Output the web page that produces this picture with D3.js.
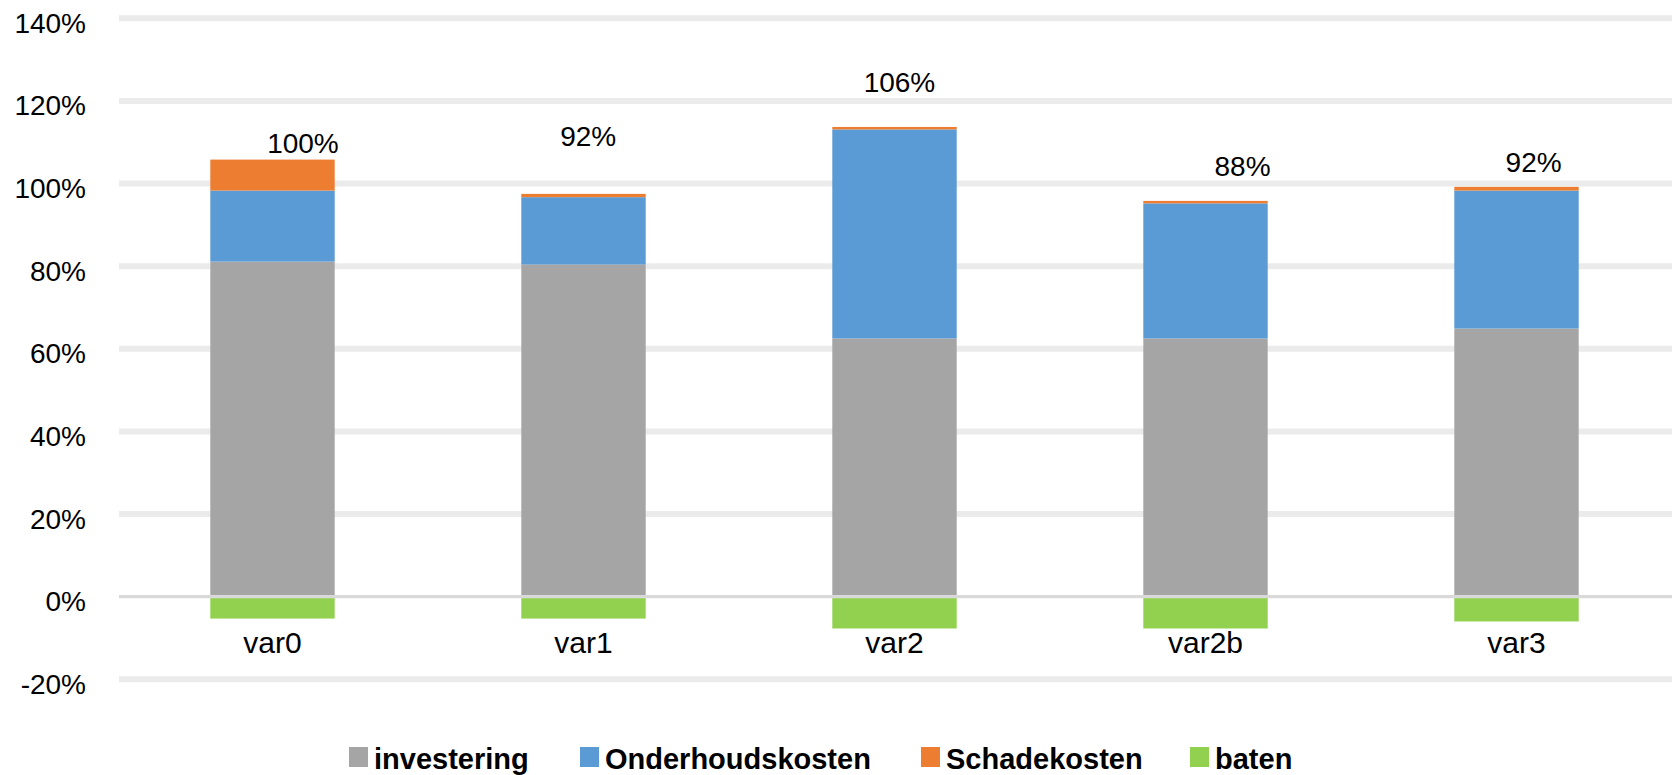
<!DOCTYPE html>
<html>
<head>
<meta charset="utf-8">
<script src="https://cdn.jsdelivr.net/npm/d3@7"></script>
<style>
  html, body { margin: 0; padding: 0; background: #fff; }
  svg { display: block; }
  text { font-family: "Liberation Sans", Arial, sans-serif; fill: #000; }
</style>
</head>
<body>
<svg id="chart" width="1672" height="775"></svg>
<script>
// ---- data ----
const categories = ["var0", "var1", "var2", "var2b", "var3"];
const investering = [81.1, 80.4, 62.5, 62.5, 64.9];
const onderhoudskosten = [17.2, 16.3, 50.6, 32.7, 33.4];
const schadekosten = [7.5, 0.8, 0.6, 0.6, 0.9];
const baten = [-5.3, -5.3, -7.7, -7.7, -6.0];
const totalLabels = ["100%", "92%", "106%", "88%", "92%"];
const yTicks = [-20, 0, 20, 40, 60, 80, 100, 120, 140];
const seriesNames = ["investering", "Onderhoudskosten", "Schadekosten", "baten"];
const seriesColors = ["#a5a5a5", "#5b9bd5", "#ed7d31", "#92d050"];

// label anchor (value in % and horizontal shift as fraction of step)
const labelValue = [109.8, 111.6, 124.7, 104.3, 105.2];
const labelShift = [0.098, 0.015, 0.016, 0.119, 0.055];

// ---- layout ----
const svg = d3.select("#chart");
const plotLeft = 117, plotRight = 1672;
const y = d3.scaleLinear().domain([-20, 140]).range([679.3, 18.3]);
const x = d3.scaleBand().domain(categories).range([plotLeft, plotRight])
  .paddingInner(0.6).paddingOuter(0.3);

// gridlines
svg.append("g").selectAll("line").data(yTicks.filter(t => t !== 0)).join("line")
  .attr("x1", plotLeft + 2).attr("x2", plotRight)
  .attr("y1", d => y(d)).attr("y2", d => y(d))
  .attr("stroke", "#ebebeb").attr("stroke-width", 6);

// y axis labels
const yAxis = d3.axisLeft(y).tickValues(yTicks).tickFormat(d => d + "%").tickSize(0).tickPadding(0);
const gy = svg.append("g").attr("transform", "translate(86,0)").call(yAxis);
gy.select(".domain").remove();
gy.selectAll("text").attr("font-size", 28).attr("dy", "0.5em")
  .style("font-family", '"Liberation Sans", Arial, sans-serif').attr("fill", "#000");

// stacked bars
const rows = categories.map((c, i) => ({
  cat: c,
  vals: [investering[i], onderhoudskosten[i], schadekosten[i]],
  neg: baten[i]
}));
const gBars = svg.append("g");
rows.forEach(r => {
  let acc = 0;
  r.vals.forEach((v, k) => {
    gBars.append("rect")
      .attr("x", x(r.cat)).attr("width", x.bandwidth())
      .attr("y", y(acc + v)).attr("height", y(acc) - y(acc + v))
      .attr("fill", seriesColors[k]);
    acc += v;
  });
  gBars.append("rect")
    .attr("x", x(r.cat)).attr("width", x.bandwidth())
    .attr("y", y(0)).attr("height", y(r.neg) - y(0))
    .attr("fill", seriesColors[3]);
});

// zero line
svg.append("line").attr("x1", plotLeft + 2).attr("x2", plotRight)
  .attr("y1", y(0)).attr("y2", y(0))
  .attr("stroke", "#d9d9d9").attr("stroke-width", 3.3);

// category labels
const xAxis = d3.axisBottom(x).tickSize(0).tickPadding(0);
const gx = svg.append("g").attr("transform", "translate(0,653)").call(xAxis);
gx.select(".domain").remove();
gx.selectAll("text").attr("font-size", 30).attr("dy", 0).attr("y", 0)
  .style("font-family", '"Liberation Sans", Arial, sans-serif').attr("fill", "#000");

// total labels
svg.append("g").selectAll("text").data(categories).join("text")
  .attr("x", (d, i) => x(d) + x.bandwidth() / 2 + labelShift[i] * x.step())
  .attr("y", (d, i) => y(labelValue[i]))
  .attr("dy", "0.36em")
  .attr("text-anchor", "middle")
  .attr("font-size", 28)
  .text((d, i) => totalLabels[i]);

// legend
const legendX = [349, 580, 921, 1190];
const lg = svg.append("g");
seriesNames.forEach((n, i) => {
  lg.append("rect").attr("x", legendX[i]).attr("y", 747).attr("width", 19).attr("height", 20)
    .attr("fill", seriesColors[i]);
  lg.append("text").attr("x", legendX[i] + 25).attr("y", 769)
    .attr("font-size", 29).attr("font-weight", "bold").text(n);
});
</script>
</body>
</html>
